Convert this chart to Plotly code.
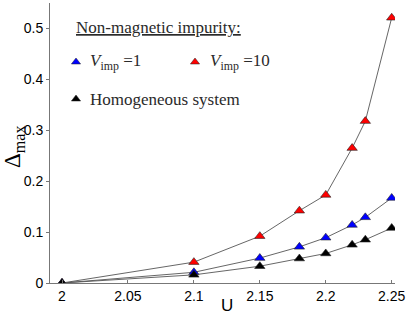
import plotly.graph_objects as go

U = [2.0, 2.1, 2.15, 2.18, 2.2, 2.22, 2.23, 2.25]
vimp10 = [0.0, 0.041, 0.092, 0.142, 0.173, 0.265, 0.318, 0.521]
vimp1 = [0.0, 0.021, 0.049, 0.071, 0.089, 0.114, 0.129, 0.167]
homog = [0.0, 0.016, 0.033, 0.048, 0.058, 0.075, 0.085, 0.108]

x_ticks = [2, 2.05, 2.1, 2.15, 2.2, 2.25]
x_ticklabels = ["2", "2.05", "2.1", "2.15", "2.2", "2.25"]
y_ticks = [0, 0.1, 0.2, 0.3, 0.4, 0.5]
y_ticklabels = ["0", "0.1", "0.2", "0.3", "0.4", "0.5"]

series = [
    ("V_imp=10", vimp10, "#ff0000"),
    ("V_imp=1", vimp1, "#0000ff"),
    ("Homogeneous", homog, "#000000"),
]

fig = go.Figure()
for name, ys, col in series:
    fig.add_trace(go.Scatter(
        x=U, y=ys, mode="lines+markers", name=name,
        line=dict(color="#555555", width=0.9),
        marker=dict(symbol="triangle-up", size=9, color=col,
                    line=dict(color="#222222", width=0.6)),
        showlegend=False,
    ))

# legend markers on an overlay axis in plot fractions
L, R, T, B = 50, 395, 3, 283
def fx(px):
    return (px - L) / (R - L)
def fy(py):
    return (B - py) / (B - T)

leg = [(76, 62, "#0000ff"), (195, 62, "#ff0000"), (76, 99, "#000000")]
fig.add_trace(go.Scatter(
    x=[fx(a) for a, b, c in leg], y=[fy(b) for a, b, c in leg],
    mode="markers", xaxis="x2", yaxis="y2", showlegend=False,
    marker=dict(symbol="triangle-up", size=8, color=[c for a, b, c in leg],
                line=dict(color="#222222", width=0.5)),
))

serif = "Liberation Serif, DejaVu Serif, serif"
ann = [
    dict(x=fx(74), y=fy(27), text="<u>Non-magnetic impurity:</u>", xanchor="left"),
    dict(x=fx(88), y=fy(62), text="<i>V</i><sub>imp</sub> =1", xanchor="left"),
    dict(x=fx(208), y=fy(62), text="<i>V</i><sub>imp</sub> =10", xanchor="left"),
    dict(x=fx(88), y=fy(99), text="Homogeneous system", xanchor="left"),
]
annotations = []
for a in ann:
    annotations.append(dict(xref="paper", yref="paper", x=a["x"], y=a["y"],
                            text=a["text"], xanchor=a["xanchor"], yanchor="middle",
                            showarrow=False,
                            font=dict(family=serif, size=17, color="#2a2a2a")))
annotations.append(dict(xref="paper", yref="paper", x=fx(14), y=fy(147),
                        text="Δ<sub>max</sub>", textangle=-90, showarrow=False,
                        xanchor="center", yanchor="middle",
                        font=dict(family=serif, size=23, color="#000000")))
annotations.append(dict(xref="paper", yref="paper", x=fx(227), y=fy(305),
                        text="U", showarrow=False, xanchor="center", yanchor="middle",
                        font=dict(family="Liberation Sans, Arial, sans-serif", size=17,
                                  color="#000000")))

fig.update_layout(
    width=409, height=320,
    margin=dict(l=L, r=409 - R, t=T, b=320 - B),
    paper_bgcolor="white", plot_bgcolor="white",
    font=dict(family="Liberation Sans, Arial, sans-serif", size=14, color="#000000"),
    xaxis=dict(range=[1.9909, 2.2525], tickvals=x_ticks, ticktext=x_ticklabels,
               showgrid=False, zeroline=False, showline=True, linecolor="#777777",
               linewidth=1, ticks="inside", ticklen=3, tickcolor="#777777"),
    yaxis=dict(range=[0, 0.55], tickvals=y_ticks, ticktext=y_ticklabels,
               showgrid=False, zeroline=False, showline=True, linecolor="#777777",
               linewidth=1, ticks="outside", ticklen=3, tickcolor="#777777"),
    xaxis2=dict(range=[0, 1], overlaying="x", visible=False),
    yaxis2=dict(range=[0, 1], overlaying="y", visible=False),
    annotations=annotations,
)

fig.write_html("out.html", config={"displayModeBar": False},
               post_script="document.body.style.margin='0';")
